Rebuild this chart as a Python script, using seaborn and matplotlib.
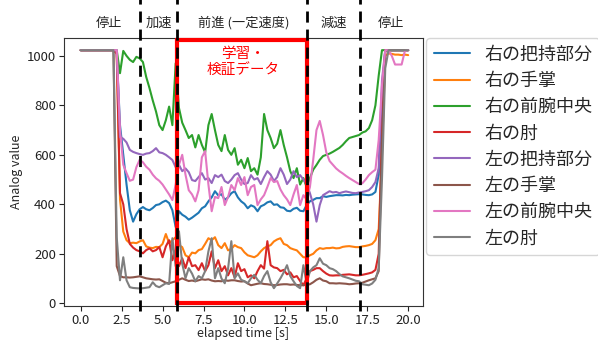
import numpy as np
import pandas as pd
import matplotlib
matplotlib.use("Agg")
import matplotlib.pyplot as plt
from matplotlib.patches import Rectangle
import seaborn as sns

# ---------------- data ----------------
SAMPLE_STEP = 0.2  # seconds between samples
labels = ["右の把持部分", "右の手掌", "右の前腕中央", "右の肘",
          "左の把持部分", "左の手掌", "左の前腕中央", "左の肘"]

r_grip = [1023, 1023, 1023, 1023, 1023, 1023, 1023, 1023, 1023, 1023,
          1023, 1010, 720, 600, 480, 376, 330, 360, 380, 389,
          380, 376, 385, 397, 400, 409, 415, 405, 376, 308,
          372, 358, 350, 338, 346, 356, 366, 384, 392, 412,
          428, 453, 436, 441, 418, 428, 445, 453, 428, 412,
          402, 384, 396, 390, 372, 392, 398, 408, 412, 398,
          400, 388, 386, 374, 372, 382, 386, 374, 372, 397,
          412, 418, 425, 425, 433, 430, 433, 435, 437, 437,
          436, 438, 437, 439, 440, 441, 440, 438, 437, 440,
          450, 520, 850, 1023, 1023, 1023, 1023, 1023, 1023, 1023,
          1023]
r_palm = [1023, 1023, 1023, 1023, 1023, 1023, 1023, 1023, 1023, 1023,
          1023, 1010, 420, 290, 255, 243, 245, 243, 250, 255,
          230, 225, 223, 228, 227, 240, 280, 243, 255, 267,
          235, 227, 194, 186, 205, 202, 215, 219, 240, 263,
          255, 267, 235, 223, 243, 214, 219, 235, 227, 223,
          206, 194, 190, 186, 194, 210, 223, 230, 235, 250,
          258, 263, 240, 235, 223, 218, 214, 200, 186, 186,
          194, 200, 214, 223, 220, 223, 223, 225, 222, 223,
          228, 230, 231, 229, 227, 227, 230, 232, 235, 240,
          255, 300, 600, 1000, 1010, 1008, 1005, 1005, 1003, 1005,
          1003]
r_forearm = [1023, 1023, 1023, 1023, 1023, 1023, 1023, 1023, 1023, 1023,
             1023, 1023, 930, 1020, 1000, 984, 975, 996, 990, 975,
             915, 870, 820, 775, 720, 700, 740, 795, 720, 970,
             790, 730, 700, 668, 680, 630, 680, 640, 610, 720,
             765, 700, 640, 615, 680, 620, 600, 627, 560, 580,
             546, 587, 534, 546, 520, 590, 765, 700, 668, 627,
             645, 700, 640, 590, 534, 506, 546, 480, 506, 470,
             506, 540, 559, 580, 595, 600, 605, 612, 620, 628,
             640, 655, 668, 672, 676, 680, 690, 695, 708, 740,
             800, 920, 1023, 1023, 1023, 1023, 1023, 1023, 1023, 1023,
             1023]
r_elbow = [1023, 1023, 1023, 1023, 1023, 1023, 1023, 1023, 1023, 1023,
           1023, 1010, 445, 400, 300, 240, 225, 215, 210, 202,
           215, 222, 210, 215, 227, 186, 230, 255, 174, 215,
           150, 182, 142, 186, 150, 154, 134, 162, 130, 154,
           210, 142, 174, 130, 150, 113, 142, 105, 162, 130,
           138, 105, 113, 101, 130, 154, 140, 251, 154, 145,
           142, 130, 135, 117, 125, 105, 110, 90, 73, 101,
           130, 135, 142, 142, 130, 120, 113, 112, 113, 113,
           115, 116, 117, 115, 113, 113, 115, 118, 121, 125,
           135, 200, 700, 1023, 1023, 1023, 1023, 1023, 1023, 1023,
           1023]
l_grip = [1023, 1023, 1023, 1023, 1023, 1023, 1023, 1023, 1023, 1023,
          1023, 1023, 672, 665, 650, 620, 612, 607, 603, 600,
          605, 607, 615, 627, 610, 607, 600, 590, 579, 550,
          560, 534, 545, 530, 498, 494, 510, 526, 500, 506,
          486, 518, 510, 520, 494, 486, 500, 518, 526, 500,
          482, 486, 518, 500, 506, 482, 510, 534, 520, 494,
          510, 546, 520, 482, 500, 534, 510, 518, 500, 482,
          445, 400, 330, 397, 437, 445, 453, 448, 450, 445,
          449, 452, 449, 446, 445, 448, 450, 453, 457, 470,
          490, 546, 900, 1023, 1023, 1023, 1023, 1023, 1023, 1023,
          1023]
l_palm = [1023, 1023, 1023, 1023, 1023, 1023, 1023, 1023, 1023, 1023,
          1023, 150, 110, 105, 105, 104, 105, 107, 109, 105,
          101, 99, 97, 96, 97, 90, 83, 81, 85, 89,
          95, 101, 95, 90, 92, 89, 93, 97, 95, 97,
          92, 89, 90, 89, 93, 91, 93, 93, 90, 88,
          89, 80, 73, 76, 79, 81, 78, 77, 75, 73,
          74, 76, 77, 77, 75, 76, 74, 73, 73, 75,
          77, 85, 95, 101, 92, 89, 81, 81, 80, 81,
          80, 79, 77, 78, 80, 81, 83, 88, 93, 97,
          101, 130, 650, 1023, 1023, 1023, 1023, 1023, 1023, 1023,
          1023]
l_forearm = [1023, 1023, 1023, 1023, 1023, 1023, 1023, 1023, 1023, 1023,
             1023, 1023, 700, 560, 526, 495, 500, 550, 580, 570,
             552, 540, 520, 505, 495, 480, 460, 440, 417, 480,
             560, 600, 520, 457, 440, 412, 457, 590, 615, 480,
             372, 430, 425, 470, 397, 430, 478, 457, 506, 478,
             510, 437, 470, 478, 397, 420, 437, 470, 506, 490,
             494, 460, 437, 420, 397, 440, 478, 397, 437, 420,
             470, 580, 700, 737, 680, 610, 575, 560, 545, 534,
             525, 515, 506, 498, 490, 482, 485, 500, 518, 530,
             540, 660, 880, 1023, 1023, 1000, 965, 965, 965, 1020,
             1023]
l_elbow = [1023, 1023, 1023, 1023, 1023, 1023, 1023, 1023, 1023, 1023,
           1023, 267, 93, 186, 93, 65, 62, 61, 60, 61,
           63, 65, 85, 70, 65, 73, 81, 78, 263, 150,
           291, 160, 101, 142, 120, 89, 110, 101, 130, 210,
           263, 101, 142, 100, 81, 140, 251, 101, 121, 95,
           89, 81, 101, 115, 95, 81, 110, 130, 85, 61,
           80, 101, 125, 154, 110, 89, 70, 61, 154, 81,
           130, 145, 154, 182, 160, 154, 142, 138, 130, 118,
           109, 105, 101, 96, 91, 89, 77, 75, 73, 80,
           95, 142, 500, 950, 1023, 1023, 1023, 1023, 1023, 1023,
           1023]

series = [r_grip, r_palm, r_forearm, r_elbow, l_grip, l_palm, l_forearm, l_elbow]

phase_bounds = [3.63, 5.87, 13.8, 17.05]
phase_names = ["停止", "加速", "前進 (一定速度)", "減速", "停止"]
phase_label_x = [1.76, 4.79, 9.95, 15.46, 18.94]
train_window = (5.87, 13.8)

# ---------------- build table ----------------
frames = []
for name, vals in zip(labels, series):
    t = np.round(np.arange(len(vals)) * SAMPLE_STEP, 2)
    frames.append(pd.DataFrame({"time": t, "value": vals, "sensor": name}))
df = pd.concat(frames, ignore_index=True)

# ---------------- style ----------------
sns.set_style("ticks")
plt.rcParams["font.family"] = ["Noto Sans CJK JP", "DejaVu Sans"]
plt.rcParams["axes.edgecolor"] = "#333333"

fig = plt.figure(figsize=(5.98, 3.45), dpi=100)
ax = fig.add_axes([0.1062, 0.113, 0.601, 0.776])

palette = sns.color_palette("tab10", 8)
sns.lineplot(data=df, x="time", y="value", hue="sensor", hue_order=labels,
             palette=palette, estimator=None, sort=False, linewidth=1.5, ax=ax)

ax.set_xlim(-1.05, 20.9)
ax.set_ylim(-11, 1071)
ax.set_xticks([0, 2.5, 5, 7.5, 10, 12.5, 15, 17.5, 20])
ax.set_xticklabels(["0.0", "2.5", "5.0", "7.5", "10.0", "12.5", "15.0", "17.5", "20.0"])
ax.set_yticks([0, 200, 400, 600, 800, 1000])
ax.tick_params(labelsize=9.5, colors="#222222", pad=2)
ax.set_xlabel("elapsed time [s]", fontsize=9, labelpad=0)
ax.set_ylabel("Analog value", fontsize=9, labelpad=3)

# training / validation window
rect = Rectangle((train_window[0], 0), train_window[1] - train_window[0], 1063,
                 fill=False, edgecolor="red", linewidth=3, zorder=5, clip_on=False)
ax.add_patch(rect)
ax.text((train_window[0] + train_window[1]) / 2 + 0.1, 975, "学習・\n検証データ",
        color="red", fontsize=10.5, ha="center", va="center", multialignment="center",
        zorder=6)

# phase boundaries
for xb in phase_bounds:
    ax.plot([xb, xb], [-30, 1235], color="black", linestyle="--", linewidth=2,
            dashes=(4, 2.5), clip_on=False, zorder=7)

for xl, nm in zip(phase_label_x, phase_names):
    ax.text(xl, 1132, nm, fontsize=9.5, ha="center", va="center", clip_on=False)

handles, lbls = ax.get_legend_handles_labels()
ax.legend(handles, lbls, loc="upper left", bbox_to_anchor=(1.01, 1.0),
          borderaxespad=0, fontsize=13, frameon=True, handlelength=2.0,
          labelspacing=0.46, borderpad=0.4)

fig.savefig("out.png", dpi=100)
